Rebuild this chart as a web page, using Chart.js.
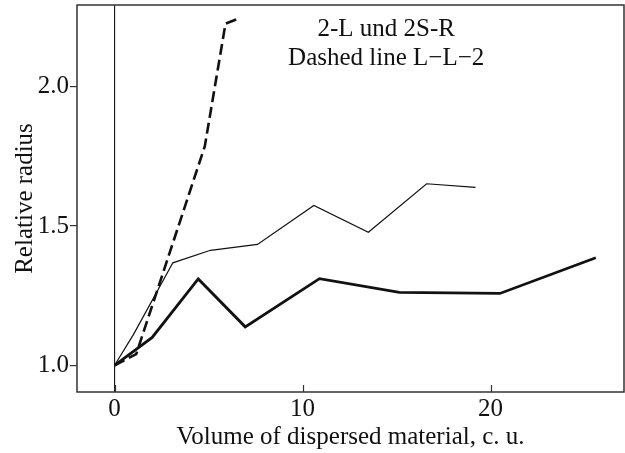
<!DOCTYPE html>
<html>
<head>
<meta charset="utf-8">
<script src="https://cdn.jsdelivr.net/npm/chart.js@4/dist/chart.umd.min.js"></script>
<style>
	html, body { margin: 0; padding: 0; background: #fff; }
	#wrap { width: 625px; height: 453px; }
</style>
</head>
<body>
<div id="wrap"><canvas id="chart"></canvas></div>
<script>
// thin solid line
const THIN_X = [0, 1.0, 3.1, 5.1, 7.6, 10.6, 13.5, 16.6, 19.2];
const THIN_Y = [1.0, 1.11, 1.368, 1.413, 1.434, 1.574, 1.478, 1.652, 1.639];
// thick solid line
const THICK_X = [0, 2.0, 4.45, 6.95, 10.9, 15.15, 20.5, 25.6];
const THICK_Y = [1.0, 1.10, 1.31, 1.138, 1.311, 1.262, 1.258, 1.386];
// dashed line L-L-2
const DASH_X = [0, 1.15, 4.8, 5.9, 6.7];
const DASH_Y = [1.0, 1.04, 1.787, 2.227, 2.248];

const X_TICKS = [0, 10, 20];
const Y_TICKS = [1.0, 1.5, 2.0];
const X_RANGE = [-2.0, 27.1];
const Y_RANGE = [0.904, 2.294];

const X_TITLE = 'Volume of dispersed material, c. u.';
const Y_TITLE = 'Relative radius';
const NOTE_LINES = ['2-L und 2S-R', 'Dashed line L\u2212L\u22122'];
const NOTE_X = 14.45;
const NOTE_Y = [2.182, 2.078];

const FONT = 'Liberation Serif';
const FONT_SIZE = 25;
const INK = '#111';
const AXIS = '#333';

function toPoints(xs, ys) {
	return xs.map((x, i) => ({ x: x, y: ys[i] }));
}

//Рамка, внутренние засечки по X и подпись
const framePlugin = {
	id: 'frame',
	afterDatasetsDraw(chart) {
		let ctx = chart.ctx;
		let area = chart.chartArea;
		let xScale = chart.scales.x;
		let yScale = chart.scales.y;

		ctx.save();
		ctx.strokeStyle = AXIS;
		ctx.lineWidth = 1.5;
		ctx.strokeRect(area.left, area.top, area.right - area.left, area.bottom - area.top);

		ctx.lineWidth = 1.2;
		X_TICKS.forEach((v) => {
			let px = Math.round(xScale.getPixelForValue(v)) + 0.5;
			ctx.beginPath();
			ctx.moveTo(px, area.bottom);
			ctx.lineTo(px, area.bottom - 7);
			ctx.stroke();
		});

		ctx.fillStyle = INK;
		ctx.font = FONT_SIZE + 'px "' + FONT + '"';
		ctx.textAlign = 'center';
		ctx.textBaseline = 'alphabetic';
		NOTE_LINES.forEach((line, i) => {
			ctx.fillText(line, xScale.getPixelForValue(NOTE_X), yScale.getPixelForValue(NOTE_Y[i]));
		});
		ctx.restore();
	}
};

new Chart(document.getElementById('chart'), {
	type: 'line',
	data: {
		datasets: [
			{
				data: [{ x: 0, y: Y_RANGE[0] }, { x: 0, y: Y_RANGE[1] }],
				borderColor: INK,
				borderWidth: 1.1
			},
			{
				data: toPoints(THIN_X, THIN_Y),
				borderColor: INK,
				borderWidth: 1.2
			},
			{
				data: toPoints(THICK_X, THICK_Y),
				borderColor: INK,
				borderWidth: 2.8
			},
			{
				data: toPoints(DASH_X, DASH_Y),
				borderColor: INK,
				borderWidth: 2.6,
				borderDash: [11, 5]
			}
		]
	},
	options: {
		responsive: true,
		maintainAspectRatio: false,
		animation: false,
		events: [],
		layout: { padding: { top: 5, right: 1, left: 0, bottom: 0 } },
		elements: {
			point: { radius: 0 },
			line: { tension: 0, fill: false, borderJoinStyle: 'miter' }
		},
		plugins: {
			legend: { display: false },
			tooltip: { enabled: false },
			title: { display: false }
		},
		scales: {
			x: {
				type: 'linear',
				min: X_RANGE[0],
				max: X_RANGE[1],
				afterBuildTicks: (scale) => { scale.ticks = X_TICKS.map((v) => ({ value: v })); },
				afterFit: (scale) => {
					scale.height = 61;
					scale.paddingLeft = 0;
					scale.paddingRight = 0;
				},
				border: { display: false },
				grid: { display: true, drawOnChartArea: false, drawTicks: false },
				ticks: {
					padding: 2,
					color: INK,
					font: { family: FONT, size: FONT_SIZE },
					maxRotation: 0,
					callback: (v) => String(v)
				},
				title: {
					display: true,
					text: X_TITLE,
					color: INK,
					font: { family: FONT, size: FONT_SIZE },
					padding: { top: 0, bottom: 1 }
				}
			},
			y: {
				type: 'linear',
				min: Y_RANGE[0],
				max: Y_RANGE[1],
				afterBuildTicks: (scale) => { scale.ticks = Y_TICKS.map((v) => ({ value: v })); },
				afterFit: (scale) => {
					scale.width = 77;
					scale.paddingTop = 0;
					scale.paddingBottom = 0;
				},
				border: { display: false },
				grid: { drawOnChartArea: false, drawTicks: true, tickLength: 7, color: AXIS, lineWidth: 1.2 },
				ticks: {
					padding: 1,
					color: INK,
					font: { family: FONT, size: FONT_SIZE },
					callback: (v) => Number(v).toFixed(1)
				},
				title: {
					display: true,
					text: Y_TITLE,
					color: INK,
					font: { family: FONT, size: FONT_SIZE },
					padding: { top: 10, bottom: 0 }
				}
			}
		}
	},
	plugins: [framePlugin]
});
</script>
</body>
</html>
